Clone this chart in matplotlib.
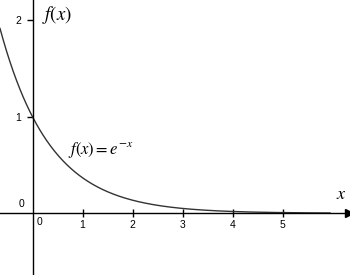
import numpy as np
import matplotlib
matplotlib.use("Agg")
import matplotlib.pyplot as plt

# function graph: f(x) = e^-x drawn from x_start to x_end
x_start, x_end = -0.65, 5.95
x_ticks = [1, 2, 3, 4, 5]
y_ticks = [1, 2]

plt.rcParams['mathtext.fontset'] = 'stix'

x = np.linspace(x_start, x_end, 400)
fx = np.exp(-x)

fig = plt.figure(figsize=(3.5, 2.75), dpi=100)
ax = fig.add_axes([0, 0, 1, 1])
ax.set_xlim(-0.65, 6.35)
ax.set_ylim(-0.64, 2.21)

ax.plot(x, fx, color='#333333', lw=1)

# axes through the origin
for s in ['top', 'right']:
    ax.spines[s].set_visible(False)
ax.spines['left'].set_position(('data', 0))
ax.spines['bottom'].set_position(('data', 0))
ax.spines['left'].set_linewidth(1)
ax.spines['bottom'].set_linewidth(1)
ax.plot(6.33, 0, marker='>', color='black', markersize=6, clip_on=False)

ax.set_xticks(x_ticks)
ax.set_xticklabels([str(t) for t in x_ticks], fontfamily='Liberation Sans', fontsize=7.5)
ax.set_yticks(y_ticks)
ax.set_yticklabels([str(t) for t in y_ticks], fontfamily='Liberation Sans', fontsize=7.5)
ax.tick_params(axis='x', direction='inout', length=6, width=1, pad=2)
ax.tick_params(axis='y', direction='out', length=4, width=1, pad=4)

# zeros next to origin
ax.text(0.08, -0.04, '0', fontfamily='Liberation Sans', fontsize=7.5, va='top', ha='left')
ax.text(-0.16, 0.04, '0', fontfamily='Liberation Sans', fontsize=7.5, va='bottom', ha='right')

ax.text(0.18, 2.05, '$f(x)$', fontsize=13.5, va='center', ha='left')
ax.text(6.08, 0.2, '$x$', fontsize=13, va='center', ha='left')
ax.text(0.7, 0.66, '$f(x) = e^{-x}$', fontsize=12, va='center', ha='left')

fig.savefig('out.png', dpi=100)
